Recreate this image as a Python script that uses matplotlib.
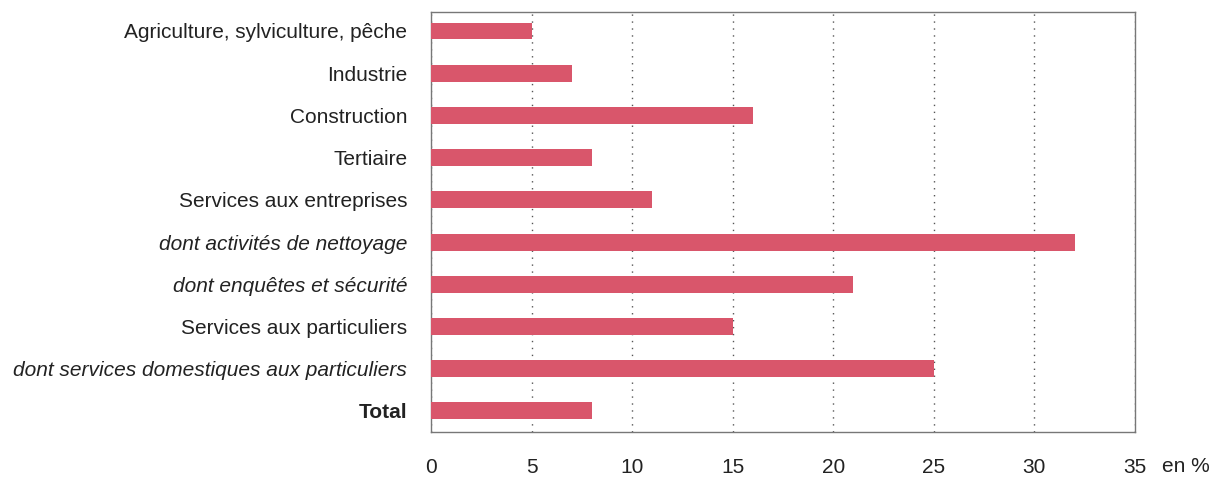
import matplotlib
matplotlib.use("Agg")
import matplotlib.pyplot as plt

categories = [
    "Agriculture, sylviculture, pêche",
    "Industrie",
    "Construction",
    "Tertiaire",
    "Services aux entreprises",
    "dont activités de nettoyage",
    "dont enquêtes et sécurité",
    "Services aux particuliers",
    "dont services domestiques aux particuliers",
    "Total",
]
values = [5, 7, 16, 8, 11, 32, 21, 15, 25, 8]
styles = ["normal", "normal", "normal", "normal", "normal", "italic", "italic", "normal", "italic", "normal"]
weights = ["normal"] * 9 + ["bold"]
xticks = [0, 5, 10, 15, 20, 25, 30, 35]

plt.rcParams["font.family"] = ["Liberation Sans", "DejaVu Sans"]

fig = plt.figure(figsize=(12.13, 4.78), dpi=100)
ax = fig.add_axes([0.3553, 0.0962, 0.5804, 0.8787])

y = list(range(len(categories)))
ax.barh(y, values, height=0.4, color="#d9566b", zorder=3)
ax.set_ylim(len(categories) - 0.5, -0.45)
ax.set_xlim(0, 35)
ax.set_xticks(xticks)
ax.set_xticklabels([str(t) for t in xticks], fontsize=15, color="#222222")
ax.set_yticks(y)
ax.set_yticklabels(categories, fontsize=15, color="#222222")
for lab, st, w in zip(ax.get_yticklabels(), styles, weights):
    lab.set_fontstyle(st)
    lab.set_fontweight(w)
ax.tick_params(axis="x", length=0, pad=19)
ax.tick_params(axis="y", length=0, pad=17)
ax.grid(axis="x", linestyle=(0, (1, 4)), color="#555555", linewidth=1.0, zorder=0)
ax.grid(axis="y", visible=False)
for s in ax.spines.values():
    s.set_color("#777777")
    s.set_linewidth(1.0)
fig.text(1186 / 1213, 1 - 467 / 478, "en %", fontsize=15, color="#222222", ha="center", va="center")

fig.savefig("out.png", dpi=100)
